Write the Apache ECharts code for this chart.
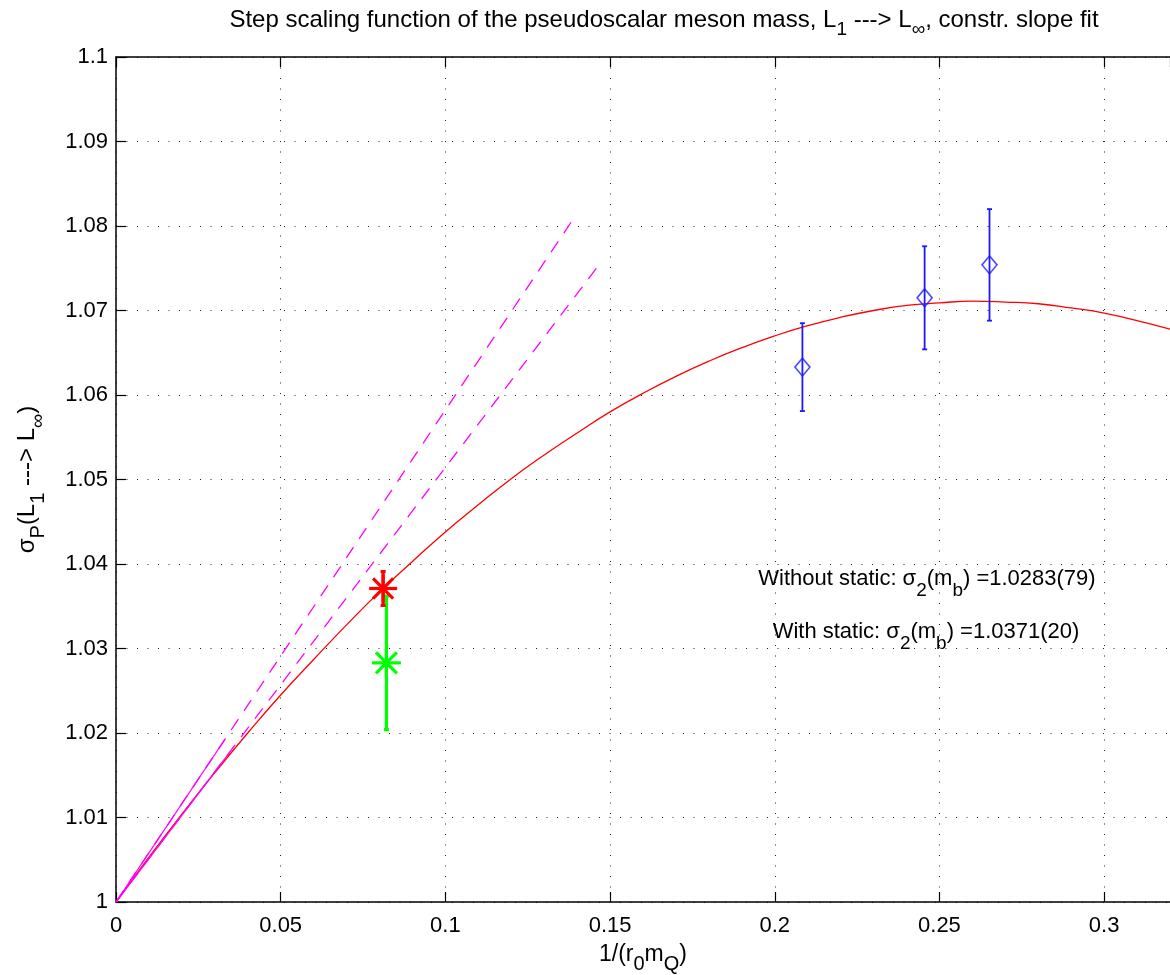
<!DOCTYPE html>
<html>
<head>
<meta charset="utf-8">
<script src="https://cdn.jsdelivr.net/npm/echarts@6/dist/echarts.min.js"></script>
<style>
  html, body { margin: 0; padding: 0; background: #fff; }
  #chart { width: 1170px; height: 975px; }
</style>
</head>
<body>
<div id="chart"></div>
<script>
// Axis ranges and tick spacing
const xRange = [0, 0.32];
const yRange = [1, 1.1];
const xStep = 0.05;
const yStep = 0.01;

// Constrained-slope fit curve (sampled)
const fitX = [0, 0.01, 0.02, 0.03, 0.04, 0.05, 0.06, 0.07, 0.08, 0.09, 0.10, 0.11, 0.12, 0.13, 0.14, 0.15, 0.16,
              0.17, 0.18, 0.19, 0.20, 0.21, 0.22, 0.23, 0.24, 0.25, 0.26, 0.27, 0.28, 0.29, 0.30, 0.31, 0.32];
const fitY = [1.0000, 1.0053, 1.0104, 1.0153, 1.0200, 1.0245, 1.0287, 1.0328, 1.0367, 1.0403, 1.0438, 1.0470, 1.0501,
              1.0529, 1.0555, 1.0580, 1.0602, 1.0622, 1.0640, 1.0656, 1.0670, 1.0682, 1.0692, 1.0700, 1.0706, 1.0709,
              1.0711, 1.0710, 1.0708, 1.0703, 1.0697, 1.0688, 1.0678];

// Measured points with errors
const pointX = [0.2084, 0.2455, 0.2652];
const pointY = [1.0633, 1.0715, 1.0754];
const pointErr = [0.0052, 0.0061, 0.0066];

// Slope lines through the origin (end points)
const slopeUpperX = [0, 0.0330, 0.1398];
const slopeUpperY = [1, 1.0192, 1.0814];
const slopeLowerX = [0, 0.0345, 0.1476];
const slopeLowerY = [1, 1.0177, 1.0759];

// Results at the b-quark mass
const withStatic = { x: 0.0811, y: 1.0371, err: 0.0020 };
const withoutStatic = { x: 0.0821, y: 1.0283, err: 0.0079 };

const FONT = "'Liberation Sans', Arial, Helvetica, sans-serif";

// t: normal text, s: lowered subscript
function richSet(size, subSize, drop) {
  return {
    t: { fontSize: size, fontFamily: FONT, fontWeight: 'normal', color: '#000', lineHeight: size + 4 },
    s: { fontSize: subSize, fontFamily: FONT, fontWeight: 'normal', color: '#000', lineHeight: subSize, padding: [drop, 0, 0, 0] }
  };
}

function pairs(xs, ys) { return xs.map((x, i) => [x, ys[i]]); }

function errorBar(color, width, cap) {
  return function (params, api) {
    const x = api.value(0);
    const top = api.coord([x, api.value(2)]);
    const bot = api.coord([x, api.value(1)]);
    const style = { stroke: color, lineWidth: width, fill: null };
    return {
      type: 'group',
      children: [
        { type: 'line', shape: { x1: top[0], y1: top[1], x2: bot[0], y2: bot[1] }, style },
        { type: 'line', shape: { x1: top[0] - cap, y1: top[1], x2: top[0] + cap, y2: top[1] }, style },
        { type: 'line', shape: { x1: bot[0] - cap, y1: bot[1], x2: bot[0] + cap, y2: bot[1] }, style }
      ]
    };
  };
}

function asterisk(color, r, width) {
  return function (params, api) {
    const p = api.coord([api.value(0), api.value(1)]);
    const d = r * 0.72;
    const style = { stroke: color, lineWidth: width, fill: null };
    const seg = (dx, dy) => ({ type: 'line', shape: { x1: p[0] - dx, y1: p[1] - dy, x2: p[0] + dx, y2: p[1] + dy }, style });
    return { type: 'group', children: [seg(r, 0), seg(0, r), seg(d, d), seg(d, -d)] };
  };
}

const gridLine = { show: true, lineStyle: { color: '#222', width: 1, type: [1, 9.5] } };
const axisLine = { show: true, onZero: false, lineStyle: { color: '#000', width: 1.5 } };
const tickIn = { show: true, inside: true, length: 10, lineStyle: { color: '#000', width: 1.2 } };
const tickFormat = v => String(parseFloat(v.toFixed(2)));

const chart = echarts.init(document.getElementById('chart'));
chart.setOption({
  backgroundColor: '#fff',
  animation: false,
  title: [
    {
      text: '{t|Step scaling function of the pseudoscalar meson mass, L}{s|1}{t| ---> L}{s|∞}{t|, constr. slope fit}',
      left: 664, top: 6, textAlign: 'center', padding: 0,
      textStyle: { fontWeight: 'normal', rich: richSet(24, 19, 20) }
    },
    {
      text: '{t|Without static: σ}{s|2}{t|(m}{s|b}{t|) =1.0283(79)}',
      left: 927, top: 566, textAlign: 'center', padding: 0,
      textStyle: { fontWeight: 'normal', rich: richSet(22, 19, 24) }
    },
    {
      text: '{t|With static: σ}{s|2}{t|(m}{s|b}{t|) =1.0371(20)}',
      left: 926, top: 619, textAlign: 'center', padding: 0,
      textStyle: { fontWeight: 'normal', rich: richSet(22, 19, 24) }
    }
  ],
  grid: { left: 116, right: 0, top: 57, bottom: 73, containLabel: false, outerBoundsMode: 'none' },
  xAxis: [
    {
      type: 'value', min: xRange[0], max: xRange[1], interval: xStep,
      axisLine, axisTick: tickIn, splitLine: gridLine,
      axisLabel: { color: '#000', fontFamily: FONT, fontSize: 22, margin: 13, showMaxLabel: false, formatter: tickFormat },
      name: '{t|1/(r}{s|0}{t|m}{s|Q}{t|)}',
      nameLocation: 'middle', nameGap: 39, nameMoveOverlap: false,
      nameTextStyle: { rich: richSet(23, 20, 20) }
    },
    {
      type: 'value', position: 'top', min: xRange[0], max: xRange[1], interval: xStep,
      axisLine, axisTick: tickIn, splitLine: { show: false }, axisLabel: { show: false }
    }
  ],
  yAxis: {
    type: 'value', min: yRange[0], max: yRange[1], interval: yStep,
    axisLine, axisTick: tickIn, splitLine: gridLine,
    axisLabel: { color: '#000', fontFamily: FONT, fontSize: 22, margin: 8, formatter: tickFormat },
    name: '{t|σ}{s|P}{t|(L}{s|1}{t| ---> L}{s|∞}{t|)}',
    nameLocation: 'middle', nameGap: 75, nameRotate: 90, nameMoveOverlap: false,
    nameTextStyle: { rich: richSet(24, 20, 22) }
  },
  series: [
    {
      name: 'fit', type: 'line', data: pairs(fitX, fitY), smooth: true, showSymbol: false,
      lineStyle: { color: '#ff0000', width: 1.3 }, z: 2
    },
    {
      name: 'slope upper', type: 'line', data: [pairs(slopeUpperX, slopeUpperY)[0], pairs(slopeUpperX, slopeUpperY)[2]],
      showSymbol: false, lineStyle: { color: '#ff00ff', width: 1.3, type: [13, 10] }, z: 3
    },
    {
      name: 'slope upper near', type: 'line', data: pairs(slopeUpperX, slopeUpperY).slice(0, 2),
      showSymbol: false, lineStyle: { color: '#ff00ff', width: 1.3 }, z: 3
    },
    {
      name: 'slope lower', type: 'line', data: [pairs(slopeLowerX, slopeLowerY)[0], pairs(slopeLowerX, slopeLowerY)[2]],
      showSymbol: false, lineStyle: { color: '#ff00ff', width: 1.3, type: [13, 10] }, z: 3
    },
    {
      name: 'slope lower near', type: 'line', data: pairs(slopeLowerX, slopeLowerY).slice(0, 2),
      showSymbol: false, lineStyle: { color: '#ff00ff', width: 1.3 }, z: 3
    },
    {
      name: 'errors', type: 'custom', renderItem: errorBar('#1a1aff', 1.8, 2.5),
      data: pointX.map((x, i) => [x, pointY[i] - pointErr[i], pointY[i] + pointErr[i]]),
      encode: { x: 0, y: [1, 2] }, z: 4
    },
    {
      name: 'points', type: 'scatter', data: pairs(pointX, pointY),
      symbol: 'diamond', symbolSize: [15, 18],
      itemStyle: { color: 'rgba(0,0,0,0)', borderColor: '#1a1aff', borderWidth: 1.6 }, z: 5
    },
    {
      name: 'without static error', type: 'custom', renderItem: errorBar('#00ff00', 3.2, 2.5),
      data: [[withoutStatic.x, withoutStatic.y - withoutStatic.err, withoutStatic.y + withoutStatic.err]],
      encode: { x: 0, y: [1, 2] }, z: 6
    },
    {
      name: 'without static', type: 'custom', renderItem: asterisk('#00ff00', 14.5, 3.2),
      data: [[withoutStatic.x, withoutStatic.y]], encode: { x: 0, y: 1 }, z: 6
    },
    {
      name: 'with static error', type: 'custom', renderItem: errorBar('#ff0000', 3.2, 2.5),
      data: [[withStatic.x, withStatic.y - withStatic.err, withStatic.y + withStatic.err]],
      encode: { x: 0, y: [1, 2] }, z: 7
    },
    {
      name: 'with static', type: 'custom', renderItem: asterisk('#ff0000', 14, 3.2),
      data: [[withStatic.x, withStatic.y]], encode: { x: 0, y: 1 }, z: 7
    }
  ]
});
</script>
</body>
</html>
